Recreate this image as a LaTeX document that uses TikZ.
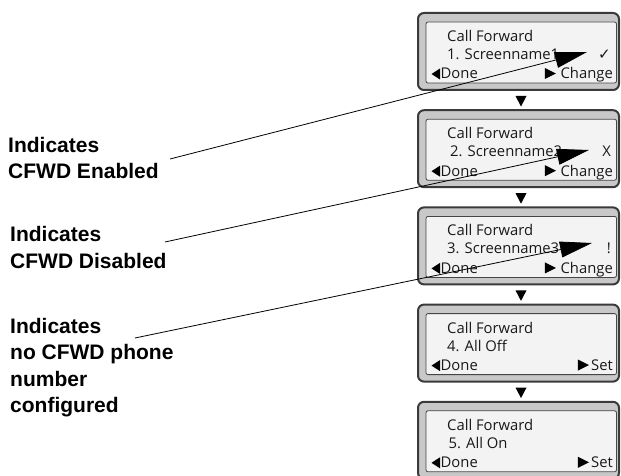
\documentclass[tikz,border=0pt]{standalone}
\usepackage{fontspec}
\setmainfont{Liberation Sans}
\newfontfamily\scrfont{Open Sans}
\newfontfamily\symfont{DejaVu Sans}
\usetikzlibrary{arrows.meta,calc}
\definecolor{boxgray}{HTML}{C8C8C8}
\definecolor{boxedge}{HTML}{3A3A3A}
\definecolor{screenbg}{HTML}{F3F3F3}
\definecolor{screenedge}{HTML}{454545}
\tikzset{
  outerbox/.style={draw=boxedge, fill=boxgray, line width=2pt, rounded corners=6pt},
  innerbox/.style={draw=screenedge, fill=screenbg, line width=0.8pt, rounded corners=2pt},
  scr/.style={font=\scrfont\fontsize{14.8}{16}\selectfont, inner sep=0pt, text=black!90},
  lbl/.style={font=\bfseries\fontsize{21}{26.5}\selectfont, align=left, anchor=north west, inner sep=0pt},
  callout/.style={line width=0.8pt, -{Triangle[length=32pt,width=16pt]}},
  marker/.style={fill=black}
}
% #1 name, #2 top, #3 line 2, #4 right key, #5 symbol, #6 x of line 2, #7 gap before right key
\newcommand\phonescreen[7]{%
  \draw[outerbox] (418,#2) rectangle (619,#2+77);
  \draw[innerbox] (426,#2+9) rectangle (616.5,#2+70);
  \node[scr, anchor=base west] (#1title) at (447,#2+28.5) {Call Forward};
  \node[scr, anchor=base west] (#1line) at (#6,#2+46.5) {#3};
  \fill[marker] (431.5,#2+61) -- (440,#2+55.5) -- (440,#2+66.5) -- cycle;
  \node[scr, anchor=base west] (#1done) at (440.5,#2+66) {Done};
  \node[scr, anchor=base east] (#1key) at (613,#2+66) {#4};
  \fill[marker] ($(#1key.base west)+(-#7,-5.5)$) -- ($(#1key.base west)+(-#7-11,-11)$) -- ($(#1key.base west)+(-#7-11,0)$) -- cycle;
  \node[scr, anchor=base east] (#1sym) at (611,#2+46.5) {#5};
}
\newcommand\downmark[1]{%
  \fill[marker] (515.5,#1) -- (526.5,#1) -- (521,#1+10.5) -- cycle;
}
\begin{document}
\begin{tikzpicture}[x=1pt,y=-1pt]
\useasboundingbox (0,0) rectangle (621,476);
\phonescreen{s1}{13}{1. Screenname1}{Change}{{\symfont\fontsize{15}{16}\selectfont ✓}}{447}{4.5}
\phonescreen{s2}{110.2}{2. Screenname2}{Change}{X}{450}{4.5}
\phonescreen{s3}{207.4}{3. Screenname3}{Change}{!}{447}{4.5}
\phonescreen{s4}{304.6}{4. All Off}{Set}{}{447}{2}
\phonescreen{s5}{401.8}{5. All On}{Set}{}{448.5}{2}
\downmark{96}
\downmark{193.2}
\downmark{290.4}
\downmark{387.6}
\node[lbl] (l1) at (8,137) {Indicates\\CFWD Enabled};
\node[lbl] (l2) at (10,226.5) {Indicates\\CFWD Disabled};
\node[lbl] (l3) at (10,318) {Indicates\\no CFWD phone\\number\\configured};
\coordinate (t1) at (170,159);
\coordinate (t2) at (165,242);
\coordinate (t3) at (135,338);
\coordinate (p1) at (587,52);
\coordinate (p2) at (589,150);
\coordinate (p3) at (592,243);
\draw[callout] (t1) -- (p1);
\draw[callout] (t2) -- (p2);
\draw[callout] (t3) -- (p3);
\end{tikzpicture}
\end{document}
